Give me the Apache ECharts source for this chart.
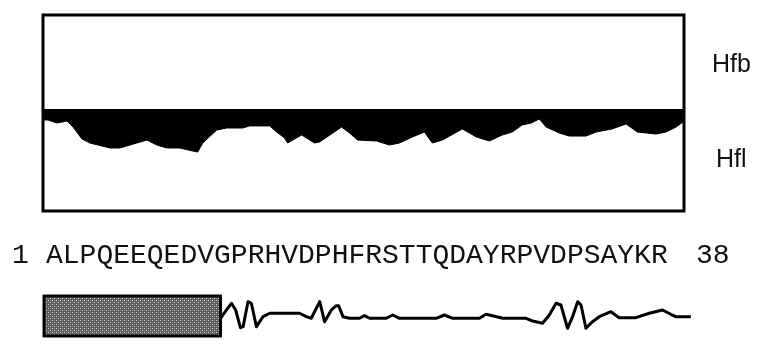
<!DOCTYPE html>
<html>
<head>
<meta charset="utf-8">
<script src="https://cdn.jsdelivr.net/npm/echarts@6/dist/echarts.min.js"></script>
<style>html,body{margin:0;padding:0;background:#fff}#c{width:763px;height:348px}</style>
</head>
<body>
<div id="c"></div>
<script>
// Hydropathy profile (position along sequence in residues, value; negative = Hfl side)
const profilePos = [0.06,0.30,0.83,1.42,1.78,2.31,2.78,3.97,4.56,5.56,6.16,6.75,7.34,8.11,8.88,9.17,9.47,10.30,10.89,11.84,12.25,13.44,13.85,14.32,14.50,15.33,16.10,16.40,17.70,18.17,18.65,19.77,20.54,21.13,21.90,22.61,23.08,23.68,24.86,25.69,26.46,27.23,27.82,28.41,28.94,29.42,29.83,30.60,31.19,32.20,32.79,33.74,34.57,35.23,36.34,36.93,37.53,37.94];
const profileVal = [-0.98,-0.98,-1.30,-1.09,-1.72,-2.97,-3.39,-3.91,-3.91,-3.39,-3.08,-3.60,-3.91,-3.91,-4.23,-4.33,-3.39,-2.03,-1.82,-1.82,-1.60,-1.60,-2.24,-2.87,-3.39,-2.55,-3.39,-3.28,-1.72,-2.34,-3.08,-3.18,-3.60,-3.39,-2.76,-2.24,-3.39,-3.08,-1.92,-2.76,-3.18,-2.55,-2.24,-1.50,-1.30,-0.88,-1.72,-2.34,-2.66,-2.66,-2.24,-1.92,-1.40,-2.24,-2.45,-2.24,-1.72,-1.19];
// Secondary structure: block and coil trace
const blockRange = [0.06, 10.52];
const structPos = [10.52,10.87,11.17,11.42,11.70,11.86,12.15,12.35,12.65,13.04,13.44,15.21,15.61,15.90,16.40,16.69,17.09,17.38,17.52,17.78,18.17,18.76,19.06,19.36,20.34,20.73,21.13,23.30,23.79,24.29,25.87,26.26,26.64,27.25,28.63,29.02,29.61,30.01,30.41,30.70,31.09,31.39,31.69,31.89,32.18,32.57,32.97,33.66,34.15,35.14,35.93,36.72,37.21,37.51,38.40];
const structVal = [4.43,6.5,8.18,6.5,2.08,2.33,8.58,8.18,2.33,4.83,5.68,5.68,4.83,4.43,8.58,3.58,6.5,7.58,7.58,4.83,4.43,4.43,5.08,4.43,4.43,5.25,4.43,4.43,5.25,4.43,4.43,5.43,5.08,4.43,4.43,3.75,3.18,5.25,8.18,7.75,1.93,4.83,8.58,7.75,1.93,3.58,4.83,6.08,4.58,4.58,5.68,6.5,5.43,4.83,4.83];
const sequence = 'ALPQEEQEDVGPRHVDPHFRSTTQDAYRPVDPSAYKR';
const startLabel = '1', endLabel = '38';
const sideLabels = ['Hfb', 'Hfl'];

const profile = profilePos.map((x, i) => [x, profileVal[i]]);
const struct = structPos.map((x, i) => [x, structVal[i]]);

// dotted fill pattern
const pc = document.createElement('canvas');
pc.width = 4; pc.height = 4;
const g = pc.getContext('2d');
g.fillStyle = '#5a5a5a'; g.fillRect(0, 0, 4, 4);
g.fillStyle = '#d8d8d8'; g.fillRect(0, 0, 1, 1); g.fillRect(2, 2, 1, 1);
g.fillStyle = '#8a8a8a'; g.fillRect(2, 0, 1, 1); g.fillRect(0, 2, 1, 1);

const chart = echarts.init(document.getElementById('c'), null, {renderer: 'canvas'});
const hidden = {axisLine:{show:false},axisTick:{show:false},axisLabel:{show:false},splitLine:{show:false}};
chart.setOption({
  animation: false,
  backgroundColor: '#fff',
  grid: [
    {left: 43, right: 79, top: 15, bottom: 137, show: true, borderColor: '#000', borderWidth: 3, backgroundColor: '#fff'},
    {left: 43, right: 60, top: 296, bottom: 12}
  ],
  xAxis: [
    Object.assign({type: 'value', min: 0, max: 38, gridIndex: 0}, hidden),
    Object.assign({type: 'value', min: 0, max: 39.12, gridIndex: 1}, hidden)
  ],
  yAxis: [
    Object.assign({type: 'value', min: -10.5, max: 10, gridIndex: 0}, hidden),
    Object.assign({type: 'value', min: 0, max: 10, gridIndex: 1}, hidden)
  ],
  series: [
    {
      type: 'line', xAxisIndex: 0, yAxisIndex: 0, data: profile, symbol: 'none',
      lineStyle: {color: '#000', width: 1}, areaStyle: {color: '#000', opacity: 1},
      markLine: {silent: true, symbol: 'none', label: {show: false},
        lineStyle: {color: '#000', width: 3, type: 'solid'}, data: [{yAxis: 0}]}
    },
    {
      type: 'line', xAxisIndex: 1, yAxisIndex: 1, data: struct, symbol: 'none', clip: false,
      lineStyle: {color: '#000', width: 3, join: 'round'},
      markArea: {silent: true, label: {show: false},
        itemStyle: {color: {image: pc, repeat: 'repeat'}, borderColor: '#000', borderWidth: 3, opacity: 1},
        data: [[{coord: [blockRange[0], 0]}, {coord: [blockRange[1], 10]}]]}
    }
  ],
  graphic: [
    {type: 'text', left: 12, top: 242, style: {text: startLabel, font: '28px "Liberation Mono"', fill: '#111'}},
    {type: 'text', left: 46, top: 242, style: {text: sequence, font: '28px "Liberation Mono"', fill: '#111'}},
    {type: 'text', left: 696, top: 242, style: {text: endLabel, font: '28px "Liberation Mono"', fill: '#111'}},
    {type: 'text', left: 712, top: 53, style: {text: sideLabels[0], font: '25px "Liberation Sans"', fill: '#111'}},
    {type: 'text', left: 716, top: 148, style: {text: sideLabels[1], font: '25px "Liberation Sans"', fill: '#111'}}
  ]
});
</script>
</body>
</html>
